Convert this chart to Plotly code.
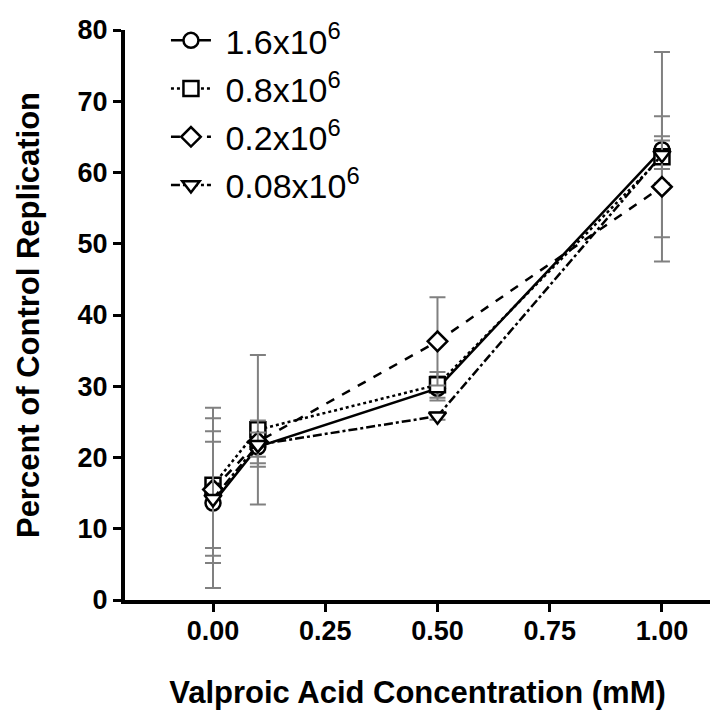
import plotly.graph_objects as go

# Data
concentrations = [0.0, 0.1, 0.5, 1.0]
series_names = ["1.6x10<sup>6</sup>", "0.8x10<sup>6</sup>", "0.2x10<sup>6</sup>", "0.08x10<sup>6</sup>"]
y_16 = [13.6, 21.5, 29.7, 63.2]
e_16 = [11.9, 2.8, 1.7, 4.7]
y_08 = [16.1, 23.9, 30.2, 62.2]
e_08 = [10.9, 10.5, 1.8, 14.7]
y_02 = [15.5, 22.2, 36.3, 58.0]
e_02 = [8.2, 3.0, 6.2, 7.1]
y_008 = [14.2, 21.8, 25.8, 62.5]
e_008 = [8.0, 1.7, 0.5, 2.0]

series_y = [y_16, y_08, y_02, y_008]
series_e = [e_16, e_08, e_02, e_008]
symbols = ["circle", "square", "diamond", "triangle-down"]
dashes = ["solid", "dot", "dash", "dashdot"]

x_ticks = [0.0, 0.25, 0.5, 0.75, 1.0]
y_ticks = [0, 10, 20, 30, 40, 50, 60, 70, 80]

fig = go.Figure()
for i, name in enumerate(series_names):
    fig.add_trace(go.Scatter(
        x=concentrations, y=series_y[i], name=" " + name, mode="lines+markers",
        legendgroup=f"g{i}",
        line=dict(color="black", width=2.5, dash=dashes[i]),
        marker=dict(symbol=symbols[i], size=15, color="white",
                    line=dict(color="black", width=2.5)),
        error_y=dict(type="data", array=series_e[i], visible=True, color="#808080",
                     thickness=2, width=8),
    ))

tickfont = dict(family="Liberation Sans, Arial, sans-serif", size=27, color="black", weight="bold")
titlefont = dict(family="Liberation Sans, Arial, sans-serif", size=31, color="black", weight="bold")

# page body has an 8px default margin, so the figure is sized/offset to compensate
fig.update_layout(
    width=716, height=718, autosize=False,
    margin=dict(l=117, r=14, t=22, b=126, autoexpand=False),
    paper_bgcolor="white", plot_bgcolor="white",
    showlegend=True,
    legend=dict(x=0.07, y=1.032, xanchor="left", yanchor="top",
                font=dict(family="Liberation Sans, Arial, sans-serif", size=34, color="black"),
                itemwidth=40, tracegroupgap=1, bgcolor="rgba(0,0,0,0)"),
    xaxis=dict(range=[-0.196, 1.107], tickvals=x_ticks, ticktext=[f"{v:.2f}" for v in x_ticks],
               showgrid=False, zeroline=False, showline=True, linecolor="black", linewidth=4,
               ticks="outside", ticklen=8, tickwidth=3, tickcolor="black",
               tickfont=tickfont, ticklabelstandoff=-4,
               title=dict(text="Valproic Acid Concentration (mM)", font=titlefont, standoff=37)),
    yaxis=dict(range=[0, 80], tickvals=y_ticks, showgrid=False, zeroline=False,
               showline=True, linecolor="black", linewidth=4,
               ticks="outside", ticklen=8, tickwidth=3, tickcolor="black",
               tickfont=tickfont,
               title=dict(text="Percent of Control Replication", font=titlefont, standoff=30)),
)

fig.write_html("out.html")
